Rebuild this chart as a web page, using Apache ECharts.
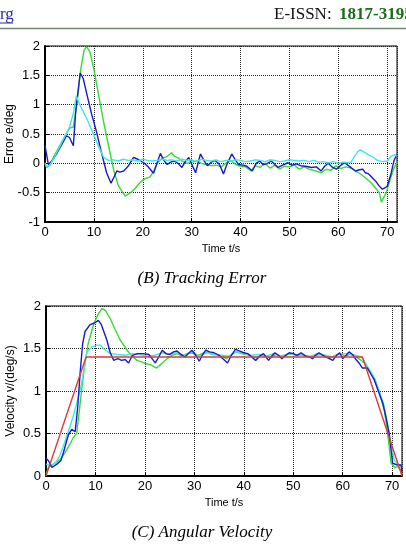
<!DOCTYPE html>
<html lang="en">
<head>
    <meta charset="UTF-8"/>
    <title>Tracking Error / Angular Velocity</title>
    <script src="https://cdn.jsdelivr.net/npm/echarts@6/dist/echarts.min.js"></script>
    <style>
        html, body { margin: 0; padding: 0; background: #fff; }
    </style>
</head>
<body>
<div id="main" style="width: 406px;height:546px;"></div>

<script type="text/javascript">
    // x ticks (time, s)
    var timeTicks = [0, 10, 20, 30, 40, 50, 60, 70];

    // (B) tracking error, [t, e]
    var errGreen = [[0,0.0],[0.4,-0.07],[1,-0.03],[2,0.15],[3,0.3],[4,0.45],[5,0.6],[5.8,0.62],[6.5,1.0],[7.3,1.6],[8.0,1.93],[8.5,1.99],[9.2,1.9],[10,1.6],[11,1.15],[12,0.7],[13,0.3],[14,-0.1],[15,-0.38],[16.4,-0.56],[17.5,-0.5],[18.5,-0.42],[19.5,-0.32],[20.5,-0.26],[21.5,-0.23],[22.3,-0.12],[23.1,0.02],[24,0.09],[25,0.12],[25.9,0.18],[26.5,0.12],[27.3,0.09],[28,0.04],[29,0.0],[30,0.02],[31,0.04],[32,0.0],[33,-0.02],[34,-0.04],[35,-0.03],[36,-0.06],[37,0.0],[38,0.05],[39,-0.02],[40,-0.05],[41,-0.06],[42.2,-0.13],[43,-0.04],[44,-0.07],[45,0.0],[46,-0.08],[47,-0.03],[48,-0.1],[49,-0.05],[50,-0.06],[51,-0.03],[52,-0.1],[53,-0.06],[54,-0.1],[55,-0.12],[56.5,-0.16],[57.5,-0.1],[58.5,-0.12],[59.5,-0.04],[60.5,-0.09],[61.5,-0.06],[62.6,-0.08],[63.5,-0.13],[64.7,-0.19],[65.7,-0.26],[66.7,-0.33],[67.6,-0.42],[68.4,-0.5],[68.8,-0.66],[69.3,-0.58],[69.8,-0.5],[70.5,-0.3],[71.2,-0.12],[72,0.02]];
    var errBlue = [[0,0.3],[0.7,-0.02],[1.5,0.05],[2.5,0.18],[3.5,0.33],[4.4,0.47],[5.0,0.44],[5.8,0.3],[6.3,0.9],[7.2,1.54],[7.8,1.45],[8.5,1.2],[9.5,0.85],[10.5,0.55],[11.5,0.2],[12.6,-0.16],[13.5,-0.34],[14.7,-0.13],[15.3,-0.15],[16.1,-0.13],[17,-0.05],[18.1,0.1],[19,0.07],[20.2,0.01],[21,-0.05],[22.2,-0.17],[23.6,0.17],[24.3,0.05],[25,-0.02],[25.7,0.02],[26.4,0.04],[27.2,0.0],[28,-0.07],[28.7,0.03],[29.4,0.1],[30.1,-0.03],[30.8,-0.16],[31.8,0.16],[32.5,0.05],[33.2,-0.04],[34,0.02],[34.8,0.05],[35.7,-0.02],[36.5,-0.18],[37.3,0.0],[38.2,0.16],[39,0.05],[39.6,-0.02],[40.5,-0.03],[41.3,-0.05],[42.4,-0.13],[43.2,0.0],[43.9,0.04],[44.6,-0.02],[45.3,-0.01],[46.3,0.04],[47,-0.02],[47.7,-0.07],[48.6,-0.03],[49.7,0.01],[50.5,-0.03],[51.4,-0.01],[52.3,-0.04],[53.3,-0.05],[54.5,-0.07],[55.5,-0.06],[56.5,-0.13],[57.2,-0.05],[57.9,0.0],[58.7,-0.06],[59.6,-0.1],[60.4,-0.04],[61.3,0.01],[62.4,-0.06],[63.5,-0.13],[64.3,-0.11],[65,-0.1],[65.5,-0.16],[66.2,-0.18],[66.9,-0.24],[67.6,-0.3],[68.3,-0.38],[69,-0.44],[69.5,-0.42],[70,-0.39],[70.7,-0.2],[71.4,0.05],[72,0.15]];
    var errCyan = [[0,0.01],[0.3,-0.06],[1,-0.03],[2,0.12],[3,0.28],[4.1,0.47],[5,0.62],[5.8,0.85],[6.4,1.15],[7,1.02],[8,0.85],[9,0.68],[10,0.48],[11,0.28],[12,0.1],[13,0.05],[14,0.06],[15,0.04],[16,0.07],[17,0.05],[18,0.06],[19,0.04],[20,0.07],[21,0.05],[22,0.04],[23,0.05],[24,0.07],[25,0.05],[26,0.06],[27,0.04],[28,0.07],[29,0.05],[30,0.06],[31,0.03],[32,0.07],[33,0.05],[34,0.04],[35,0.06],[36,0.03],[37,0.05],[38,0.04],[39,0.06],[40,0.05],[41,0.03],[42,0.04],[43,0.06],[44,0.05],[45,0.03],[46,0.06],[47,0.05],[48,0.03],[49,0.04],[50,0.06],[51,0.05],[52,0.04],[53,0.05],[54,0.03],[55,0.05],[56,0.02],[57,0.03],[58,0.01],[59,0.03],[60,0.0],[61,0.02],[62,0.01],[62.6,0.02],[63.3,0.12],[64,0.2],[64.5,0.23],[65.3,0.19],[66.2,0.14],[67.2,0.1],[68,0.05],[69,0.03],[70,0.04],[70.8,0.12],[71.5,0.15],[72,0.12]];

    // (C) angular velocity, [t, v]
    var velRed = [[0,0],[8.1,1.4],[64,1.4],[72,0]];
    var velGreen = [[0,0.02],[0.5,0.1],[1.5,0.14],[2.8,0.19],[3.8,0.27],[4.9,0.38],[5.5,0.45],[6.2,0.5],[6.8,0.8],[7.6,1.21],[8.5,1.55],[9.6,1.78],[10.5,1.9],[11.3,1.97],[12,1.95],[13,1.85],[14,1.72],[15,1.6],[16.4,1.48],[17.4,1.41],[18.4,1.36],[19.5,1.34],[20.3,1.32],[21.1,1.31],[22.4,1.27],[23.5,1.33],[24.5,1.38],[25.5,1.42],[26.5,1.44],[27.5,1.41],[28.5,1.44],[29.5,1.45],[30.5,1.41],[31.5,1.44],[32.5,1.46],[33.5,1.43],[34.5,1.43],[35.5,1.41],[36.5,1.38],[37.5,1.43],[38.5,1.46],[39.5,1.44],[40.5,1.43],[41.5,1.41],[42.5,1.39],[43.5,1.42],[44.5,1.41],[45.5,1.39],[46.5,1.43],[47.5,1.41],[48.5,1.42],[49.5,1.44],[50.5,1.42],[51.5,1.43],[52.5,1.41],[53.5,1.4],[54.5,1.42],[55.5,1.43],[56.5,1.41],[57.5,1.39],[58.5,1.42],[59.5,1.44],[60.5,1.41],[61.5,1.43],[62.5,1.41],[63.5,1.37],[64.4,1.33],[65.5,1.24],[66.6,1.13],[67.5,0.96],[68.4,0.78],[69.1,0.5],[69.8,0.15],[70.5,0.1],[71.1,0.11],[72,0.05]];
    var velCyan = [[0,0.14],[1,0.12],[2,0.16],[2.8,0.24],[3.5,0.35],[4.5,0.52],[5.5,0.7],[6.4,0.9],[7.2,1.09],[7.8,1.3],[8.3,1.46],[9.3,1.52],[10.3,1.54],[11,1.54],[11.6,1.5],[12.3,1.47],[13,1.44],[14.5,1.43],[16,1.42],[17.5,1.44],[19,1.43],[20.5,1.41],[22,1.42],[23.5,1.45],[25,1.43],[26.5,1.45],[28,1.42],[29.5,1.46],[31,1.41],[32.5,1.45],[34,1.43],[35.5,1.42],[37,1.41],[38.5,1.46],[40,1.44],[41.5,1.42],[43,1.43],[44.5,1.41],[46,1.44],[47.5,1.41],[49,1.44],[50.5,1.43],[52,1.42],[53.5,1.41],[55,1.44],[56.5,1.42],[58,1.4],[59.5,1.44],[61,1.44],[62.5,1.42],[63.8,1.4],[64.6,1.33],[65.5,1.24],[66.4,1.15],[67.4,1.0],[68.4,0.82],[69.4,0.5],[70.4,0.19],[71.1,0.14],[71.8,0.13],[72,0.1]];
    var velBlue = [[0,0.21],[0.5,0.18],[1.2,0.1],[2.2,0.14],[3,0.18],[3.5,0.27],[4.5,0.48],[5.2,0.55],[5.9,0.52],[6.4,0.8],[6.9,1.21],[7.4,1.55],[7.9,1.7],[8.9,1.78],[9.8,1.8],[10.6,1.83],[11.2,1.78],[12.3,1.6],[13,1.45],[13.7,1.36],[14.5,1.38],[15.3,1.36],[16,1.37],[16.7,1.33],[17.5,1.42],[18.5,1.44],[19.7,1.44],[20.8,1.43],[22.1,1.33],[22.8,1.4],[23.5,1.48],[24.3,1.44],[25,1.43],[25.8,1.46],[26.5,1.47],[27.3,1.43],[28.1,1.4],[28.8,1.44],[29.5,1.48],[30.3,1.42],[31,1.35],[31.6,1.42],[32.3,1.48],[33.1,1.46],[34,1.45],[35,1.42],[35.8,1.38],[36.7,1.33],[37.5,1.42],[38.3,1.49],[39.2,1.47],[40,1.45],[40.8,1.44],[41.6,1.4],[42.4,1.36],[43.2,1.41],[44,1.44],[45,1.36],[45.6,1.41],[46.3,1.45],[47,1.42],[47.7,1.38],[48.5,1.42],[49.2,1.45],[50,1.44],[50.8,1.42],[51.6,1.45],[52.5,1.41],[53.3,1.4],[53.9,1.38],[54.5,1.42],[55.2,1.45],[56,1.42],[57,1.39],[58,1.36],[58.8,1.42],[59.4,1.45],[60,1.38],[60.7,1.42],[61.3,1.46],[62,1.43],[62.7,1.37],[63.3,1.33],[64,1.27],[65,1.27],[65.7,1.2],[66.4,1.13],[67.2,1.0],[68.1,0.86],[68.8,0.68],[69.4,0.5],[69.8,0.3],[70.1,0.15],[71,0.13],[71.8,0.13],[72,0.05]];

    var GREEN = '#33dd33', BLUE = '#1a1ac8', CYAN = '#40e6e6', RED = '#e03a3a';
    var SANS = '"Liberation Sans", Arial, sans-serif';
    var SERIF = '"Liberation Serif", "Times New Roman", serif';

    var myChart = echarts.init(document.getElementById('main'));

    function xAxisCfg(gridIndex) {
        return {
            type: 'value', gridIndex: gridIndex,
            min: 0, max: 72, interval: 10,
            name: 'Time t/s', nameLocation: 'middle', nameGap: 21, nameMoveOverlap: false,
            nameTextStyle: { color: '#000', fontFamily: SANS, fontSize: 11 },
            axisLine: { show: true, onZero: false, lineStyle: { color: '#000', width: 2 } },
            axisTick: { show: true, inside: true, length: 4, lineStyle: { color: '#000' } },
            axisLabel: {
                color: '#000', fontFamily: SANS, fontSize: 13, margin: 4,
                showMaxLabel: false,
                formatter: function (v) { return timeTicks.indexOf(v) >= 0 ? String(v) : ''; }
            },
            splitLine: { show: true, lineStyle: { color: '#222', type: 'dotted', width: 1 } }
        };
    }

    function yAxisCfg(gridIndex, min, name) {
        return {
            type: 'value', gridIndex: gridIndex,
            min: min, max: 2, interval: 0.5,
            name: name, nameLocation: 'middle', nameGap: 29, nameMoveOverlap: false,
            nameTextStyle: { color: '#000', fontFamily: SANS, fontSize: 12 },
            axisLine: { show: true, onZero: false, lineStyle: { color: '#000', width: 2 } },
            axisTick: { show: true, inside: true, length: 4, lineStyle: { color: '#000' } },
            axisLabel: { color: '#000', fontFamily: SANS, fontSize: 13, margin: 5 },
            splitLine: { show: true, lineStyle: { color: '#222', type: 'dotted', width: 1 } }
        };
    }

    function lineSeries(data, color, xi, yi) {
        return {
            type: 'line', data: data, xAxisIndex: xi, yAxisIndex: yi,
            showSymbol: false, symbol: 'none', silent: true,
            lineStyle: { color: color, width: 1.4 }
        };
    }

    var option = {
        backgroundColor: '#fff',
        animation: false,
        grid: [
            { left: 45, top: 46, width: 352, height: 176, outerBoundsMode: 'none', containLabel: false,
              show: true, borderColor: '#000', borderWidth: 1, backgroundColor: '#fff' },
            { left: 46, top: 306, width: 356, height: 170, outerBoundsMode: 'none', containLabel: false,
              show: true, borderColor: '#000', borderWidth: 1, backgroundColor: '#fff' }
        ],
        xAxis: [xAxisCfg(0), xAxisCfg(1)],
        yAxis: [yAxisCfg(0, -1, 'Error e/deg'), yAxisCfg(1, 0, 'Velocity v/(deg/s)')],
        series: [
            lineSeries(errGreen, GREEN, 0, 0),
            lineSeries(errBlue, BLUE, 0, 0),
            lineSeries(errCyan, CYAN, 0, 0),
            lineSeries(velGreen, GREEN, 1, 1),
            lineSeries(velCyan, CYAN, 1, 1),
            lineSeries(velBlue, BLUE, 1, 1),
            lineSeries(velRed, RED, 1, 1)
        ],
        graphic: [
            { type: 'text', left: 0, top: 6, style: { text: 'rg', fill: '#2a2aa8', font: '17px ' + SERIF } },
            { type: 'line', shape: { x1: 0, y1: 23, x2: 13, y2: 23 }, style: { stroke: '#2a2aa8', lineWidth: 1 } },
            { type: 'text', left: 274, top: 6, style: { text: 'E-ISSN:', fill: '#111', font: '17px ' + SERIF } },
            { type: 'text', left: 339, top: 6, style: { text: '1817-3195', fill: '#1a6e1a', font: 'bold 17px ' + SERIF } },
            { type: 'line', shape: { x1: 0, y1: 28.5, x2: 406, y2: 28.5 }, style: { stroke: '#6f8a6f', lineWidth: 1.5 } },
            { type: 'text', x: 202, y: 279, style: { text: '(B) Tracking Error', fill: '#000', font: 'italic 17px ' + SERIF, textAlign: 'center', textVerticalAlign: 'middle' } },
            { type: 'text', x: 202, y: 533, style: { text: '(C) Angular Velocity', fill: '#000', font: 'italic 17px ' + SERIF, textAlign: 'center', textVerticalAlign: 'middle' } }
        ]
    };

    myChart.setOption(option);
</script>

</body>
</html>
